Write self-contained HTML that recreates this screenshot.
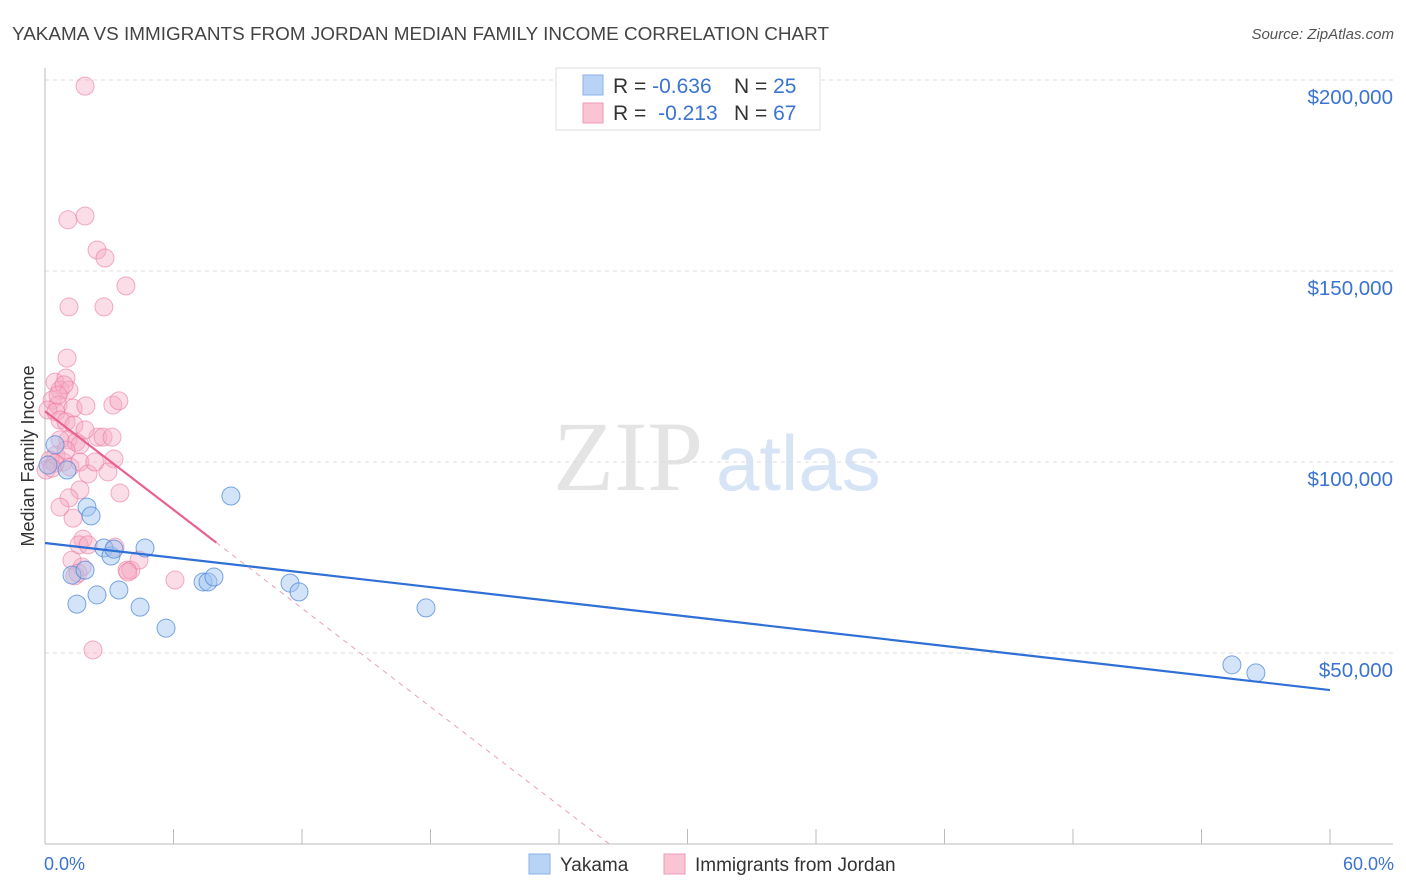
<!DOCTYPE html>
<html><head><meta charset="utf-8"><style>
body{margin:0;background:#fff;font-family:"Liberation Sans",sans-serif;}
svg{display:block}
</style></head><body>
<svg id="chart" width="1406" height="892">
<text x="12" y="40" font-size="18" fill="#444" textLength="817" lengthAdjust="spacingAndGlyphs">YAKAMA VS IMMIGRANTS FROM JORDAN MEDIAN FAMILY INCOME CORRELATION CHART</text>
<text x="1394" y="39" font-size="15" fill="#555" font-style="italic" text-anchor="end">Source: ZipAtlas.com</text>
<g>
<text x="553" y="490" font-family="Liberation Serif,serif" font-size="100" fill="#e4e4e4">ZIP</text>
<text x="716" y="490" font-size="78" fill="#d6e4f6">atlas</text>
</g>
<g id="grid"></g>
<g id="axes"></g>
<g id="marks"></g>
<g>
<rect x="556" y="68" width="264" height="62" fill="#fff" stroke="#ddd"/>
<rect x="583" y="75" width="20" height="20" fill="#b9d3f6" stroke="#8ab1e8"/>
<rect x="583" y="103" width="20" height="20" fill="#f9c4d3" stroke="#f09ab4"/>
<text x="613" y="93" font-size="21" fill="#333">R = <tspan fill="#3a73d0">-0.636</tspan></text>
<text x="734" y="93" font-size="21" fill="#333">N = <tspan fill="#3a73d0">25</tspan></text>
<text x="613" y="120" font-size="21" fill="#333">R = <tspan fill="#3a73d0" dx="6">-0.213</tspan></text>
<text x="734" y="120" font-size="21" fill="#333">N = <tspan fill="#3a73d0">67</tspan></text>
</g>
<text transform="translate(34,456) rotate(-90)" font-size="18" fill="#333" text-anchor="middle">Median Family Income</text>
<text x="44" y="870" font-size="18" fill="#3a73d0">0.0%</text>
<text x="1394" y="870" font-size="18" fill="#3a73d0" text-anchor="end">60.0%</text>
<g>
<rect x="529" y="854" width="21" height="20" fill="#b9d3f6" stroke="#8ab1e8"/>
<text x="560" y="871" font-size="19" fill="#333">Yakama</text>
<rect x="664" y="854" width="21" height="20" fill="#f9c4d3" stroke="#f09ab4"/>
<text x="695" y="871" font-size="19" fill="#333">Immigrants from Jordan</text>
</g>
</svg>
<script>
const yTicks=[50,100,150,200];
const yTickLabels=["$50,000","$100,000","$150,000","$200,000"];
const xTicks=[0,6,12,18,24,30,36,42,48,54,60];
const blueX=[0.47,1.03,1.96,2.15,1.26,1.87,1.49,2.43,2.75,3.08,3.22,3.45,4.44,4.67,5.65,7.38,7.61,7.89,8.68,11.44,11.86,17.79,55.42,56.54,0.14];
const blueY=[104.5,97.9,88.2,85.9,70.4,71.7,62.8,65.2,77.5,75.4,77.2,66.5,62.0,77.5,56.5,68.6,68.6,69.9,91.1,68.3,66.0,61.8,46.9,44.8,99.2];
const pinkX=[1.87,1.07,1.87,2.43,2.80,3.78,1.12,2.75,1.03,0.47,0.98,0.70,1.12,0.33,0.61,0.14,0.51,1.31,1.91,0.70,0.98,1.35,3.17,3.45,1.07,1.45,1.63,2.47,2.71,3.13,0.51,0.84,1.17,0.23,0.47,1.63,3.22,2.01,1.63,3.50,1.12,0.70,1.31,1.77,1.59,2.01,3.27,1.73,1.26,1.40,1.54,3.83,4.01,4.39,3.87,6.07,2.24,0.05,0.33,2.94,0.89,0.61,0.70,0.98,1.87,2.33];
const pinkY=[198.4,163.4,164.4,155.5,153.4,146.1,140.6,140.6,127.2,120.9,122.0,118.8,118.8,116.2,114.9,113.6,113.1,114.1,114.7,111.0,110.5,109.7,114.9,116.0,105.8,105.2,104.5,106.5,106.5,106.5,101.8,100.0,98.7,100.5,99.7,100.0,100.8,96.9,92.7,91.9,90.6,88.2,85.3,79.8,78.3,78.3,77.7,72.5,74.3,70.2,70.9,71.7,71.7,74.3,71.2,69.1,50.8,97.9,98.4,97.4,120.2,117.5,105.8,103.1,108.4,100.0];
const blueLine=[78.8,40.3];
const pinkLine=[113.3,-4.3];
const NS="http://www.w3.org/2000/svg";
const X=v=>45+v*(1285/60);
const Y=v=>844-v*3.82;
function mk(t,a,p){const e=document.createElementNS(NS,t);for(const k in a)e.setAttribute(k,a[k]);p.appendChild(e);return e;}
const grid=document.getElementById('grid'),axes=document.getElementById('axes'),marks=document.getElementById('marks');
yTicks.forEach((t,i)=>{
 const l=mk('line',{x1:45,x2:1393,y1:Y(t),y2:Y(t),stroke:'#ddd','stroke-dasharray':'4,4'},grid);
 
 
 const tx=mk('text',{x:1393,y:Y(t)+24,'font-size':20.5,fill:'#3a73d0','text-anchor':'end'},grid);
 tx.textContent=yTickLabels[i];
 
 
});
const ax=mk('line',{x1:45,x2:1393,y1:844,y2:844,stroke:'#bbb'},axes);


const ay=mk('line',{x1:45,x2:45,y1:68,y2:844,stroke:'#bbb'},axes);


xTicks.forEach(t=>{
 const l=mk('line',{x1:X(t),x2:X(t),y1:829,y2:844,stroke:'#bbb'},axes);
 
 
});
pinkX.forEach((x,i)=>{
 const c=mk('circle',{cx:X(x),cy:Y(pinkY[i]),r:9,fill:'rgba(246,170,194,0.4)',stroke:'rgba(236,120,160,0.6)','stroke-width':1},marks);
 
 
});
blueX.forEach((x,i)=>{
 const c=mk('circle',{cx:X(x),cy:Y(blueY[i]),r:9,fill:'rgba(160,195,240,0.45)',stroke:'rgba(70,130,215,0.7)','stroke-width':1},marks);
 
 
});
const bl=mk('line',{x1:X(0),y1:Y(blueLine[0]),x2:X(60),y2:Y(blueLine[1]),stroke:'#2f6fd6','stroke-width':2.2},marks);


const pEnd=8, pZero=-pinkLine[0]/pinkLine[1];
const pl=mk('line',{x1:X(0),y1:Y(pinkLine[0]),x2:X(pEnd),y2:Y(pinkLine[0]+pinkLine[1]*pEnd),stroke:'#e8628c','stroke-width':2.2},marks);


const pd=mk('line',{x1:X(pEnd),y1:Y(pinkLine[0]+pinkLine[1]*pEnd),x2:X(pZero),y2:Y(0),stroke:'#e8a0b8','stroke-width':1,'stroke-dasharray':'5,5'},marks);


</script>
</body></html>
